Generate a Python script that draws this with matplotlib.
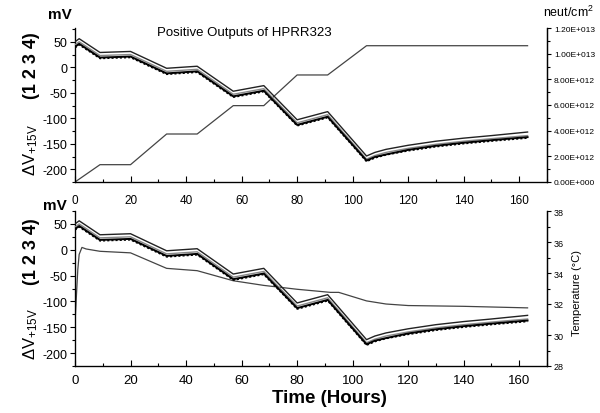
import matplotlib
matplotlib.use('Agg')
import matplotlib.pyplot as plt
from matplotlib.ticker import MultipleLocator, FixedLocator, FixedFormatter

plt.rcParams['font.family'] = ['Liberation Sans', 'DejaVu Sans']
plt.rcParams['mathtext.fontset'] = 'custom'
plt.rcParams['mathtext.rm'] = 'Liberation Sans'
plt.rcParams['mathtext.it'] = 'Liberation Sans'
plt.rcParams['axes.unicode_minus'] = False

# ---------------- data ----------------
t_mv = [0, 1.5, 9, 20, 33, 44, 57, 68, 80, 91, 105, 108, 112, 120, 130, 140, 150, 163]
out1 = [50, 56, 29, 31, -2, 2, -47, -36, -103, -87, -174, -167, -161, -153, -145, -139, -134, -127]
out2 = [44, 50, 23, 25, -8, -4, -53, -42, -109, -93, -180, -173, -167, -159, -151, -145, -140, -134]
out3 = [40, 46, 19, 21, -12, -8, -57, -46, -113, -97, -183, -176, -171, -162, -154, -148, -143, -137]
out4 = [38, 44, 17, 19, -14, -10, -59, -48, -115, -99, -185, -178, -172, -164, -156, -150, -145, -139]

t_flu = [0, 9, 20, 33, 44, 57, 68, 80, 91, 105, 163]
fluence = [0, 1.35e12, 1.35e12, 3.74e12, 3.74e12, 5.95e12, 5.95e12, 8.34e12, 8.34e12, 1.062e13, 1.062e13]

t_temp = [0, 0.5, 1, 1.5, 2.5, 4, 9, 20, 33, 44, 57, 68, 80, 92, 95, 105, 112, 120, 140, 163]
temp = [30.8, 32.5, 34.2, 35.2, 35.65, 35.55, 35.4, 35.3, 34.3, 34.15, 33.5, 33.2, 32.95, 32.75, 32.75,
        32.2, 32.0, 31.9, 31.85, 31.75]

x_ticks = [0, 20, 40, 60, 80, 100, 120, 140, 160]
mv_ticks = [50, 0, -50, -100, -150, -200]
flu_ticks = [0, 2e12, 4e12, 6e12, 8e12, 1e13, 1.2e13]
flu_labels = ['0.00E+000', '2.00E+012', '4.00E+012', '6.00E+012', '8.00E+012', '1.00E+013', '1.20E+013']
temp_ticks = [28, 30, 32, 34, 36, 38]

W, H = 600, 414
fig = plt.figure(figsize=(6, 4.14), dpi=100)


def fx(px):
    return px / W


def fy(py):
    return 1 - py / H


def style_main(ax, xpad):
    ax.set_xlim(0, 170)
    ax.set_ylim(-225, 77)
    ax.spines['top'].set_visible(False)
    for s in ['left', 'bottom', 'right']:
        ax.spines[s].set_linewidth(0.9)
    ax.xaxis.set_major_locator(FixedLocator(x_ticks))
    ax.xaxis.set_minor_locator(MultipleLocator(10))
    ax.yaxis.set_major_locator(FixedLocator(mv_ticks))
    ax.yaxis.set_minor_locator(MultipleLocator(25))
    ax.tick_params(axis='x', which='major', direction='in', length=4, width=0.8, pad=xpad)
    ax.tick_params(axis='x', which='minor', direction='in', length=2.5, width=0.8)
    ax.tick_params(axis='y', which='major', direction='out', length=3.5, width=0.8, pad=2, labelsize=9)
    ax.tick_params(axis='y', which='minor', direction='out', length=2, width=0.8)
    ax.set_facecolor('none')


def draw_outputs(ax):
    ax.plot(t_mv, out1, color='#222222', lw=1.0, zorder=5)
    ax.plot(t_mv, out2, color='#888888', lw=1.0, zorder=5)
    ax.plot(t_mv, out3, color='black', lw=1.4, zorder=6)
    ax.plot(t_mv, out4, color='black', lw=1.0, ls=(0, (1.5, 1.5)), zorder=6)


# ---------------- top panel ----------------
ax1 = fig.add_axes([fx(75), fy(183), fx(547) - fx(75), fy(29) - fy(183)])
ax1r = ax1.twinx()
ax1r.plot(t_flu, fluence, color='#444444', lw=0.9)
ax1r.set_ylim(0, 1.2e13)
ax1r.yaxis.set_major_locator(FixedLocator(flu_ticks))
ax1r.yaxis.set_major_formatter(FixedFormatter(flu_labels))
ax1r.yaxis.set_minor_locator(MultipleLocator(1e12))
ax1r.tick_params(axis='y', which='major', direction='out', length=3, width=0.8, labelsize=6, pad=2)
ax1r.tick_params(axis='y', which='minor', direction='out', length=2, width=0.8)
ax1r.spines['top'].set_visible(False)
ax1r.spines['right'].set_linewidth(0.9)
ax1.set_zorder(ax1r.get_zorder() + 1)
style_main(ax1, 9)
ax1.tick_params(axis='x', labelsize=8.5)
draw_outputs(ax1)

# ---------------- bottom panel ----------------
ax2 = fig.add_axes([fx(75), fy(367), fx(547) - fx(75), fy(212) - fy(367)])
ax2r = ax2.twinx()
ax2r.plot(t_temp, temp, color='#444444', lw=0.9)
ax2r.set_ylim(28, 38)
ax2r.yaxis.set_major_locator(FixedLocator(temp_ticks))
ax2r.yaxis.set_minor_locator(MultipleLocator(1))
ax2r.tick_params(axis='y', which='major', direction='out', length=3, width=0.8, labelsize=6.5, pad=2)
ax2r.tick_params(axis='y', which='minor', direction='out', length=2, width=0.8)
ax2r.spines['top'].set_visible(False)
ax2r.spines['right'].set_linewidth(0.9)
ax2.set_zorder(ax2r.get_zorder() + 1)
style_main(ax2, 6)
ax2.set_ylim(-225, 75)
ax2.tick_params(axis='x', labelsize=9.5)
draw_outputs(ax2)

# ---------------- texts ----------------
fig.text(fx(60), fy(15), 'mV', fontsize=11, fontweight='bold', ha='center', va='center')
fig.text(fx(55), fy(206), 'mV', fontsize=11, fontweight='bold', ha='center', va='center')
fig.text(fx(32), fy(66), '(1 2 3 4)', fontsize=13, fontweight='bold', rotation=90, ha='center', va='center')
fig.text(fx(32), fy(252), '(1 2 3 4)', fontsize=13, fontweight='bold', rotation=90, ha='center', va='center')
fig.text(fx(31), fy(150), r'$\Delta$V$_{+15V}$', fontsize=12, rotation=90, ha='center', va='center')
fig.text(fx(31), fy(334), r'$\Delta$V$_{+15V}$', fontsize=12, rotation=90, ha='center', va='center')
fig.text(fx(157), fy(33), 'Positive Outputs of HPRR323', fontsize=9.5, ha='left', va='center')
fig.text(fx(568), fy(12), 'neut/cm$^2$', fontsize=9, ha='center', va='center')
fig.text(fx(577), fy(293), 'Temperature (°C)', fontsize=8, rotation=90, ha='center', va='center')
fig.text(fx(329), fy(399), 'Time (Hours)', fontsize=13.5, fontweight='bold', ha='center', va='center')

fig.savefig('out.png', dpi=100)
